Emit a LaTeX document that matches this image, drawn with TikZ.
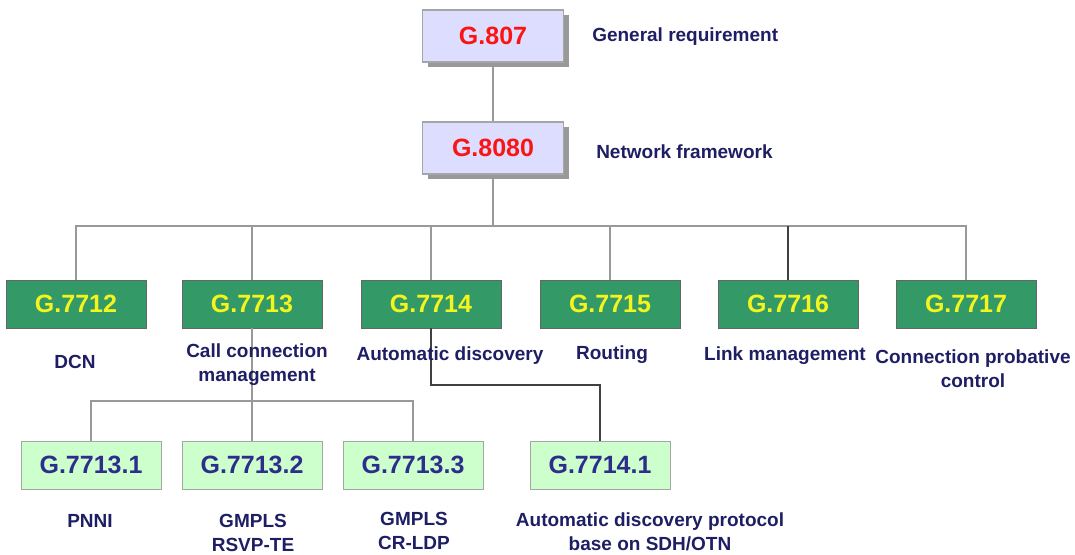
\documentclass[tikz,border=0pt]{standalone}
\usepackage{fontspec}
\setmainfont{Liberation Sans}
\usepackage{xcolor}
\usepackage{tikz}
\usetikzlibrary{shadows}
\definecolor{stdred}{RGB}{250,20,20}
\definecolor{stdlilac}{RGB}{221,221,255}
\definecolor{stdgreen}{RGB}{51,153,102}
\definecolor{stdyellow}{RGB}{245,245,30}
\definecolor{stdmint}{RGB}{204,255,204}
\definecolor{stdnavy}{RGB}{30,30,100}
\definecolor{stdblue}{RGB}{45,45,140}
\tikzset{
  topbox/.style={draw=gray!70,line width=1pt,fill=stdlilac,minimum width=106pt,minimum height=39pt,
    text=stdred,font=\fontsize{18.75}{22}\selectfont\bfseries,
    drop shadow={shadow xshift=4pt,shadow yshift=-4pt,fill=gray!80,opacity=1}},
  mainbox/.style={draw=black!60,fill=stdgreen,minimum width=105pt,minimum height=36pt,
    text=stdyellow,font=\fontsize{18.75}{22}\selectfont\bfseries},
  subbox/.style={draw=gray!70,fill=stdmint,minimum width=105pt,minimum height=36pt,
    text=stdblue,font=\fontsize{18.75}{22}\selectfont\bfseries},
  note/.style={text=stdnavy,align=center,inner sep=0pt,font=\fontsize{14.25}{18}\selectfont\bfseries},
  link/.style={draw=gray!80,line width=0.8pt},
  darklink/.style={draw=black!75,line width=0.8pt}
}
\begin{document}
\begin{tikzpicture}[x=0.75pt,y=-0.75pt]
  \useasboundingbox (0,0) rectangle (1075,554);

  \node[topbox] (g807) at (493,36) {G.807};
  \node[note,anchor=west] (n807) at (592,37) {General requirement};
  \node[topbox] (g8080) at (493,148) {G.8080};
  \node[note,anchor=west] (n8080) at (596,152) {Network framework};

  \node[mainbox] (g7712) at (76,304) {G.7712};
  \node[mainbox] (g7713) at (252,304) {G.7713};
  \node[mainbox] (g7714) at (431,304) {G.7714};
  \node[mainbox] (g7715) at (610,304) {G.7715};
  \node[mainbox] (g7716) at (788,304) {G.7716};
  \node[mainbox] (g7717) at (966,304) {G.7717};

  \node[subbox] (g77131) at (91,465) {G.7713.1};
  \node[subbox] (g77132) at (252,465) {G.7713.2};
  \node[subbox] (g77133) at (413,465) {G.7713.3};
  \node[subbox] (g77141) at (600,465) {G.7714.1};

  \coordinate (bus) at (493,226);
  \coordinate (fork) at (252,401);
  \coordinate (bend) at (431,385);

  \draw[link] (g807) -- (g8080);
  \draw[link] (g8080.south) -- (g8080.south |- bus) -| (g7712.north);
  \draw[link] (g8080.south |- bus) -| (g7717.north);
  \foreach \g in {g7713,g7714,g7715}
    \draw[link] (\g.north |- bus) -- (\g.north);
  \draw[darklink] (g7716.north |- bus) -- (g7716.north);

  \draw[link] (g7713.south) -- (g77132.north);
  \draw[link] (g77131.north) |- (fork) -| (g77133.north);
  \draw[darklink] (g7714.south) -- (g7714.south |- bend) -| (g77141.north);

  \node[note] (n7712) at (75,362) {DCN};
  \node[note] (n7713) at (257,365) {Call connection\\management};
  \node[note] (n7714) at (450,356) {Automatic discovery};
  \node[note] (n7715) at (612,355) {Routing};
  \node[note] (n7716) at (785,356) {Link management};
  \node[note] (n7717) at (973,369) {Connection probative\\control};

  \node[note] (n77131) at (90,521) {PNNI};
  \node[note] (n77132) at (253,533) {GMPLS\\RSVP-TE};
  \node[note] (n77133) at (414,531) {GMPLS\\CR-LDP};
  \node[note] (n77141) at (650,532) {Automatic discovery protocol\\base on SDH/OTN};
\end{tikzpicture}
\end{document}
